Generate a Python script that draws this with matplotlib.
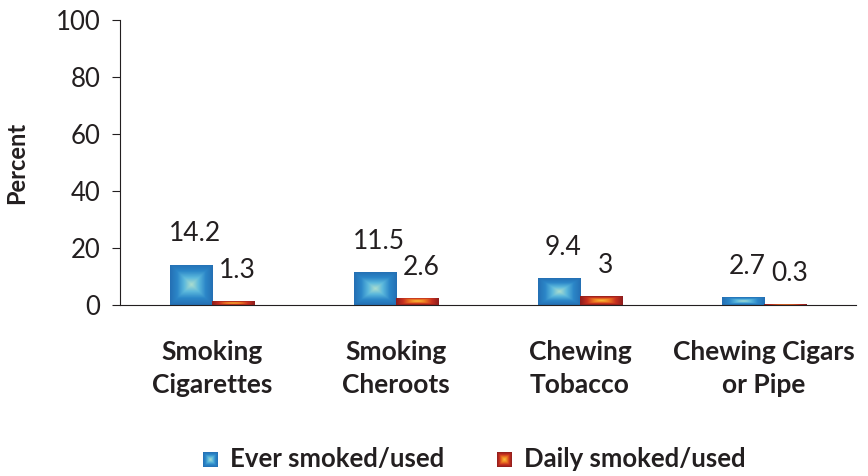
import matplotlib.pyplot as plt
import numpy as np
from matplotlib.colors import LinearSegmentedColormap

categories = ["Smoking\nCigarettes", "Smoking\nCheroots", "Chewing\nTobacco", "Chewing Cigars\nor Pipe"]
ever_used = [14.2, 11.5, 9.4, 2.7]
daily_used = [1.3, 2.6, 3.0, 0.3]
series_names = ["Ever smoked/used", "Daily smoked/used"]

plt.rcParams['font.family'] = ['Lato', 'DejaVu Sans']

blue_cmap = LinearSegmentedColormap.from_list("blue_grad", ["#a9dccf", "#5bb8dc", "#2b86c8", "#2470b4"])
red_cmap = LinearSegmentedColormap.from_list("red_grad", ["#f7c23a", "#ee7d22", "#c8301f", "#8e1d1d"])


def square_gradient(n=64):
    t = np.linspace(-1, 1, n)
    xx, yy = np.meshgrid(t, t)
    return np.maximum(np.abs(xx), np.abs(yy))


grad = square_gradient()

fig = plt.figure(figsize=(8.68, 4.76), dpi=100)
ax = fig.add_axes([120 / 868, 1 - 305 / 476, 736 / 868, 285 / 476])

x = np.arange(len(categories))
width = 0.23

for vals, off, cmap in [(ever_used, -width / 2, blue_cmap), (daily_used, width / 2, red_cmap)]:
    bars = ax.bar(x + off, vals, width, color='none', edgecolor='none')
    for b, v in zip(bars, vals):
        x0 = b.get_x()
        im = ax.imshow(grad, extent=[x0, x0 + b.get_width(), 0, v], aspect='auto',
                       cmap=cmap, interpolation='bilinear', zorder=2)
        im.set_clip_path(b)
        ax.annotate(f"{v:g}", (b.get_x() + b.get_width() / 2, v), xytext=(3, 22),
                    textcoords='offset points', ha='center', va='center',
                    fontsize=19, color='#231f20')

ax.set_xlim(-0.5, len(categories) - 0.5)
ax.set_ylim(0, 100)

for s in ['top', 'right']:
    ax.spines[s].set_visible(False)
ax.spines['left'].set_color('#231f20')
ax.spines['bottom'].set_color('#231f20')
ax.set_yticks(np.arange(0, 101, 20))
ax.tick_params(axis='y', labelsize=18.5, colors='#231f20', length=6, direction='out', pad=8)
ax.set_xticks(x)
ax.set_xticklabels(categories, fontsize=19, fontweight='bold', color='#231f20', linespacing=1.45)
ax.tick_params(axis='x', length=0, pad=25)
ax.set_ylabel("Percent", fontsize=17, fontweight='bold', color='#231f20', labelpad=20)

# legend with gradient swatches
legend_items = [(series_names[0], blue_cmap, 203), (series_names[1], red_cmap, 497)]
for name, cmap, px in legend_items:
    sw = fig.add_axes([px / 868, 1 - 467 / 476, 15 / 868, 15 / 476])
    sw.imshow(grad, cmap=cmap, aspect='auto', interpolation='bilinear')
    sw.axis('off')
    fig.text((px + 27) / 868, 1 - 459 / 476, name, fontsize=18.5, fontweight='bold',
             color='#231f20', va='center', ha='left')

fig.savefig("out.png", dpi=100)
